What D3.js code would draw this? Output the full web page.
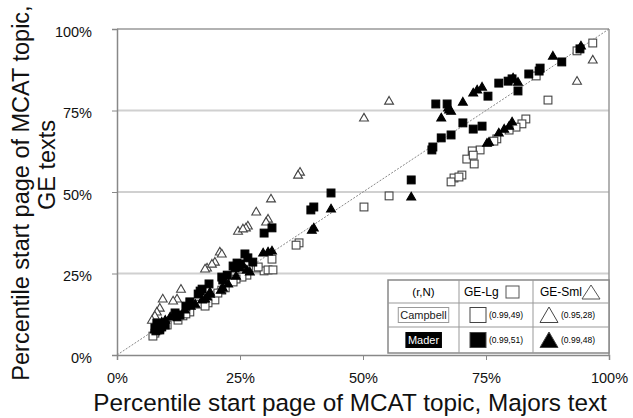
<!DOCTYPE html>
<html>
<head>
<meta charset="utf-8">
<script src="https://cdn.jsdelivr.net/npm/d3@7"></script>
<style>
  body { margin: 0; background: #fff; }
  svg { font-family: "Liberation Sans", Arial, sans-serif; }
</style>
</head>
<body>
<div class="chart"></div>
<script>
const width = 633
const height = 418

// percentile start page [majors text, GE text]
const campbellLg = [
    [96.7, 95.7], [93.5, 93.3], [87.6, 78.2], [85.2, 85.6], [83.1, 72.4], [82.3, 70.9], [81.1, 69.9],
    [79.7, 69.0], [77.2, 66.3], [76.6, 65.6], [73.8, 62.9], [72.2, 62.6], [71.1, 60.1], [72.6, 58.6],
    [70.1, 55.2], [68.5, 54.3], [67.9, 53.1], [55.3, 48.8], [50.2, 45.4], [37.0, 34.4], [36.4, 33.7],
    [31.5, 29.4], [28.3, 26.7], [29.9, 25.8], [30.7, 26.1], [31.7, 26.1], [26.4, 24.5], [25.4, 23.9],
    [24.2, 23.3], [22.0, 20.6], [21.3, 19.9], [19.9, 16.9], [18.5, 16.0], [16.5, 15.6], [13.4, 12.0],
    [12.4, 10.7], [10.2, 9.2], [8.3, 7.7], [7.7, 6.7], [23.6, 22.4], [17.9, 15.0], [14.8, 13.2],
    [28.7, 27.0], [72.4, 61.3], [69.5, 54.6], [7.3, 5.8], [20.5, 19.0], [8.7, 8.3], [14.0, 12.6]
]
const campbellSml = [
    [55.3, 77.9], [50.2, 72.7], [96.7, 90.5], [93.5, 84.0], [37.2, 56.1], [36.8, 55.2], [31.3, 47.9],
    [28.3, 43.9], [30.7, 41.7], [30.3, 40.8], [26.6, 39.6], [26.2, 39.0], [24.6, 38.0], [20.9, 31.6],
    [19.9, 28.5], [18.3, 26.7], [17.9, 26.4], [13.0, 20.2], [12.2, 17.2], [9.3, 17.2], [8.7, 14.4],
    [8.1, 13.2], [7.7, 12.0], [25.6, 38.7], [19.3, 27.9], [11.4, 16.6], [7.1, 10.7], [21.3, 31.0]
]
const maderLg = [
    [94.1, 93.9], [90.4, 89.9], [86.0, 88.0], [85.8, 87.1], [83.7, 86.2], [81.5, 81.0], [80.3, 84.7],
    [79.5, 84.0], [77.6, 83.4], [75.4, 79.4], [74.2, 70.2], [72.4, 69.3], [70.3, 71.2], [67.1, 77.0],
    [64.8, 77.0], [67.9, 67.5], [65.9, 66.6], [64.2, 63.8], [64.0, 62.9], [59.8, 53.7], [43.5, 49.7],
    [40.0, 45.4], [39.4, 44.5], [31.5, 39.0], [29.9, 37.4], [26.0, 31.0], [27.6, 28.5], [24.4, 28.2],
    [23.6, 27.3], [25.0, 27.9], [21.3, 23.9], [21.5, 23.0], [18.7, 21.8], [16.9, 19.6], [16.5, 18.7],
    [14.8, 16.3], [11.8, 12.9], [12.2, 11.7], [8.1, 9.8], [8.3, 8.6], [7.7, 8.3], [9.1, 8.6],
    [8.7, 7.7], [7.9, 7.4], [14.0, 15.0], [24.0, 26.7], [9.8, 9.2], [22.4, 24.5], [17.3, 20.2],
    [26.6, 29.8], [12.8, 12.3]
]
const maderSml = [
    [94.3, 94.8], [88.6, 91.7], [81.5, 83.7], [80.5, 85.0], [74.2, 82.2], [72.4, 80.4], [70.3, 77.6],
    [67.5, 75.2], [67.9, 74.8], [65.9, 72.7], [80.3, 71.5], [79.7, 70.2], [77.6, 68.1], [75.6, 65.3],
    [75.2, 65.0], [59.8, 48.5], [43.5, 44.8], [40.0, 39.0], [39.6, 38.3], [29.7, 31.3], [31.5, 31.9],
    [25.6, 27.6], [26.4, 26.1], [24.2, 24.2], [21.5, 20.6], [21.1, 19.9], [18.9, 18.7], [18.3, 17.8],
    [17.3, 16.9], [15.0, 15.0], [9.8, 10.7], [9.1, 10.1], [8.7, 8.6], [7.7, 7.7], [8.3, 9.2],
    [27.0, 25.5], [22.6, 21.8], [13.8, 13.8], [10.8, 11.7], [73.2, 81.3], [78.7, 69.3], [67.3, 75.8],
    [30.7, 31.6], [25.0, 26.7], [17.9, 17.2], [15.9, 15.6], [8.5, 8.0], [18.9, 19.3]
]

const ticks = [0, 25, 50, 75, 100]
const gridTicks = [25, 50, 75]

const legendRows = [
    { name: "Campbell", lg: "(0.99,49)", sml: "(0.95,28)", filled: false },
    { name: "Mader", lg: "(0.99,51)", sml: "(0.99,48)", filled: true }
]

const margin = { top: 29, right: 24, bottom: 63, left: 117 }

const svg = d3.select(".chart").append("svg").attr("width", width).attr("height", height)

let x = d3.scaleLinear().domain([0, 100]).range([margin.left, width - margin.right])
let y = d3.scaleLinear().domain([0, 100]).range([height - margin.bottom, margin.top])

// grid lines
svg.selectAll(".grid").data(gridTicks).enter().append("line")
    .attr("x1", x(0)).attr("x2", x(100))
    .attr("y1", d => y(d)).attr("y2", d => y(d))
    .style("stroke", "#d0d0d0").style("stroke-width", "2px")

// frame top / right
svg.append("line").attr("x1", x(0)).attr("x2", x(100)).attr("y1", y(100)).attr("y2", y(100))
    .style("stroke", "#999").style("stroke-width", "1.5px")
svg.append("line").attr("x1", x(100)).attr("x2", x(100)).attr("y1", y(100)).attr("y2", y(0))
    .style("stroke", "#999").style("stroke-width", "1.5px")

// identity line
svg.append("line").attr("x1", x(0)).attr("y1", y(0)).attr("x2", x(100)).attr("y2", y(100))
    .style("stroke", "#888").style("stroke-width", "1px").style("stroke-dasharray", "2,1.5")

const xAxis = svg.append("g").attr("transform", `translate(0,${y(0)})`)
    .call(d3.axisBottom(x).tickValues(ticks).tickFormat(d => d + "%").tickSize(5).tickPadding(14))
const yAxis = svg.append("g").attr("transform", `translate(${x(0)},0)`)
    .call(d3.axisLeft(y).tickValues(ticks).tickFormat(d => d + "%").tickSize(5).tickPadding(20))

;[xAxis, yAxis].forEach(a => {
    a.select(".domain").style("stroke", "#888").style("stroke-width", "1.5px")
    a.selectAll(".tick line").style("stroke", "#888")
    a.selectAll(".tick text").style("font-size", "14.5px").style("fill", "#111")
        .style("font-family", "'Liberation Sans', Arial, sans-serif")
})
yAxis.selectAll(".tick text").attr("dy", "0.5em")
xAxis.selectAll(".tick text").attr("dy", "0.6em")

const tri = d3.symbol().type(d3.symbolTriangle)

function drawSquares(data, filled) {
    svg.append("g").selectAll("rect").data(data).enter().append("rect")
        .attr("x", d => x(d[0]) - 3.9).attr("y", d => y(d[1]) - 3.9)
        .attr("width", 7.8).attr("height", 7.8)
        .style("fill", filled ? "#000" : "#fff")
        .style("stroke", filled ? "#000" : "#444").style("stroke-width", "1.1px")
}
function drawTriangles(data, filled) {
    svg.append("g").selectAll("path").data(data).enter().append("path")
        .attr("d", tri.size(34))
        .attr("transform", d => `translate(${x(d[0])},${y(d[1]) + 0.5})`)
        .style("fill", filled ? "#000" : "#fff")
        .style("stroke", filled ? "#000" : "#444").style("stroke-width", "1.1px")
}

drawSquares(campbellLg, false)
drawTriangles(campbellSml, false)
drawSquares(maderLg, true)
drawTriangles(maderSml, true)

// axis titles
svg.append("text").attr("x", 350).attr("y", 411).attr("text-anchor", "middle")
    .style("font-size", "24.3px").style("fill", "#111")
    .text("Percentile start page of MCAT topic, Majors text")

svg.append("text").attr("transform", "translate(29,193) rotate(-90)").attr("text-anchor", "middle")
    .style("font-size", "23.5px").style("fill", "#111")
    .text("Percentile start page of MCAT topic,")
svg.append("text").attr("transform", "translate(55,165) rotate(-90)").attr("text-anchor", "middle")
    .style("font-size", "23.5px").style("fill", "#111")
    .text("GE texts")

// legend table
const lx = [388, 459, 533, x(100)]
const ly = [280, 303, 327, 353]
const legend = svg.append("g").attr("class", "legend")

legend.append("rect").attr("x", lx[0]).attr("y", ly[0])
    .attr("width", lx[3] - lx[0]).attr("height", ly[3] - ly[0])
    .style("fill", "#fff").style("stroke", "#888").style("stroke-width", "1.5px")
lx.slice(1, 3).forEach(v => legend.append("line").attr("x1", v).attr("x2", v).attr("y1", ly[0]).attr("y2", ly[3])
    .style("stroke", "#999"))
ly.slice(1, 3).forEach(v => legend.append("line").attr("x1", lx[0]).attr("x2", lx[3]).attr("y1", v).attr("y2", v)
    .style("stroke", "#999"))

legend.append("text").attr("x", (lx[0] + lx[1]) / 2).attr("y", 295.5).attr("text-anchor", "middle")
    .style("font-size", "11.5px").text("(r,N)")
legend.append("text").attr("x", 464).attr("y", 296).style("font-size", "12px").text("GE-Lg")
legend.append("rect").attr("x", 506).attr("y", 286).attr("width", 13).attr("height", 12)
    .style("fill", "#fff").style("stroke", "#555")
legend.append("text").attr("x", 540).attr("y", 296).style("font-size", "12px").text("GE-Sml")
legend.append("path").attr("d", "M591,285 L600,299 L582,299 Z")
    .style("fill", "#fff").style("stroke", "#555")

legendRows.forEach(function (d, i) {
    const cy = (ly[i + 1] + ly[i + 2]) / 2
    const g = legend.append("g")
    const label = g.append("text").attr("x", (lx[0] + lx[1]) / 2).attr("y", cy + 4)
        .attr("text-anchor", "middle").style("font-size", "11px")
        .style("fill", d.filled ? "#fff" : "#222").text(d.name)
    const bb = label.node().getBBox()
    g.insert("rect", "text").attr("x", bb.x - 2).attr("y", cy - 7.5)
        .attr("width", bb.width + 4).attr("height", 15)
        .style("fill", d.filled ? "#000" : "#fff").style("stroke", d.filled ? "#000" : "#999")

    g.append("rect").attr("x", 470).attr("y", cy - 7.5).attr("width", 16).attr("height", 15)
        .style("fill", d.filled ? "#000" : "#fff").style("stroke", "#444")
    g.append("text").attr("x", 489).attr("y", cy + 3).style("font-size", "8.5px").text(d.lg)

    g.append("path").attr("d", `M549,${cy - 8} L558,${cy + 7.5} L540,${cy + 7.5} Z`)
        .style("fill", d.filled ? "#000" : "#fff").style("stroke", "#444")
    g.append("text").attr("x", 561).attr("y", cy + 3).style("font-size", "8.5px").text(d.sml)
})
</script>
</body>
</html>
